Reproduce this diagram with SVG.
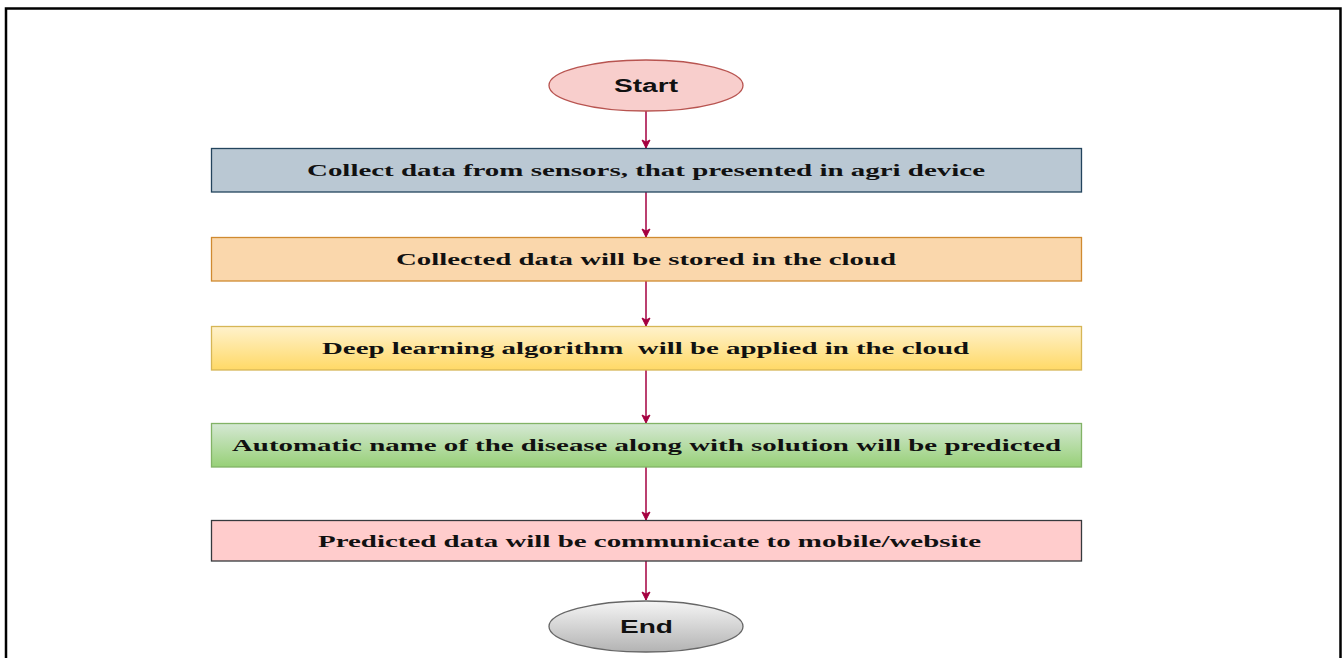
<svg xmlns="http://www.w3.org/2000/svg" width="1344" height="658" viewBox="0 0 1344 658">
<defs>
<linearGradient id="gY" x1="0" y1="0" x2="0" y2="1"><stop offset="0" stop-color="#fff2cc"/><stop offset="1" stop-color="#ffd966"/></linearGradient>
<linearGradient id="gG" x1="0" y1="0" x2="0" y2="1"><stop offset="0" stop-color="#d5e8d4"/><stop offset="1" stop-color="#97d077"/></linearGradient>
<linearGradient id="gE" x1="0" y1="0" x2="0" y2="1"><stop offset="0" stop-color="#f5f5f5"/><stop offset="1" stop-color="#b3b3b3"/></linearGradient>
<marker id="ah" markerWidth="10" markerHeight="10" refX="9" refY="5" orient="auto" markerUnits="userSpaceOnUse"><path d="M1,1 L9,5 L1,9 L3,5 Z" fill="#a50040" stroke="#a50040"/></marker>
</defs>
<style>
.box{stroke-width:1.3}
.t{font-family:"Liberation Serif","Times New Roman",serif;font-weight:bold;font-size:17px;fill:#111;text-anchor:start}
.s{font-family:"Liberation Sans",Arial,sans-serif;font-weight:bold;font-size:18px;fill:#111}
.c{stroke:#a50040;stroke-width:1.5;fill:none;marker-end:url(#ah)}
</style>
<rect width="1344" height="658" fill="#fff"/>
<path d="M6,658 V8.5 H1340.5 V658" fill="none" stroke="#000" stroke-width="2.5"/>
<g id="connectors">
<line class="c" x1="646" y1="111" x2="646" y2="148"/>
<line class="c" x1="646" y1="192" x2="646" y2="237"/>
<line class="c" x1="646" y1="281" x2="646" y2="326"/>
<line class="c" x1="646" y1="370" x2="646" y2="423"/>
<line class="c" x1="646" y1="467" x2="646" y2="520"/>
<line class="c" x1="646" y1="561" x2="646" y2="600"/>
</g>
<g id="start">
<ellipse cx="646" cy="85.5" rx="97" ry="25.5" fill="#f8cecc" stroke="#b85450" stroke-width="1.3"/>
<text class="s" x="614" y="92" textLength="64" lengthAdjust="spacingAndGlyphs">Start</text>
</g>
<g id="n1">
<rect class="box" x="211.5" y="148.5" width="870" height="43.5" fill="#bac8d3" stroke="#23445d"/>
<text class="t" x="307" y="176" textLength="678" lengthAdjust="spacingAndGlyphs">Collect data from sensors, that presented in agri device</text>
</g>
<g id="n2">
<rect class="box" x="211.5" y="237.5" width="870" height="43.5" fill="#fad7ac" stroke="#d08a30"/>
<text class="t" x="396" y="265" textLength="500" lengthAdjust="spacingAndGlyphs">Collected data will be stored in the cloud</text>
</g>
<g id="n3">
<rect class="box" x="211.5" y="326.5" width="870" height="43.5" fill="url(#gY)" stroke="#d6b656"/>
<text class="t" x="322" y="354" textLength="647" lengthAdjust="spacingAndGlyphs" xml:space="preserve">Deep learning algorithm  will be applied in the cloud</text>
</g>
<g id="n4">
<rect class="box" x="211.5" y="423.5" width="870" height="43.5" fill="url(#gG)" stroke="#82b366"/>
<text class="t" x="232" y="451" textLength="829" lengthAdjust="spacingAndGlyphs">Automatic name of the disease along with solution will be predicted</text>
</g>
<g id="n5">
<rect class="box" x="211.5" y="520.5" width="870" height="40.5" fill="#ffcccc" stroke="#36393d"/>
<text class="t" x="318" y="547" textLength="663" lengthAdjust="spacingAndGlyphs">Predicted data will be communicate to mobile/website</text>
</g>
<g id="end">
<ellipse cx="646" cy="626.5" rx="97" ry="25.5" fill="url(#gE)" stroke="#666666" stroke-width="1.3"/>
<text class="s" x="620" y="633" textLength="53" lengthAdjust="spacingAndGlyphs">End</text>
</g>
</svg>
